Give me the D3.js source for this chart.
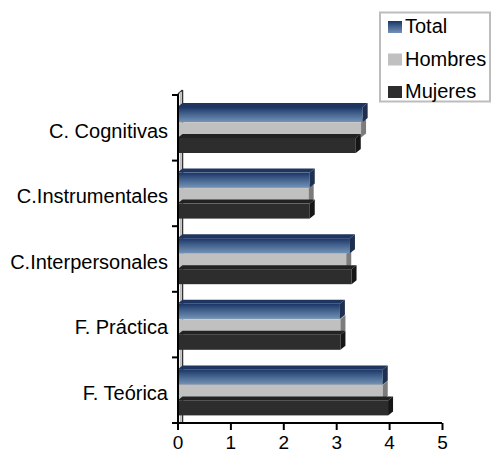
<!DOCTYPE html>
<html>
<head>
<meta charset="utf-8">
<script src="https://cdn.jsdelivr.net/npm/d3@7"></script>
<style>
  html, body { margin: 0; padding: 0; background: #fff; }
  svg { display: block; }
  text { font-family: "Liberation Sans", Arial, sans-serif; fill: #000; }
</style>
</head>
<body>
<svg id="chart" width="496" height="455"></svg>
<script>
// ---- data ----
const categories = ["C. Cognitivas", "C.Instrumentales", "C.Interpersonales", "F. Práctica", "F. Teórica"];
const seriesNames = ["Total", "Hombres", "Mujeres"];
const totalValues   = [3.50, 2.50, 3.26, 3.07, 3.88];
const hombresValues = [3.47, 2.48, 3.19, 3.08, 3.88];
const mujeresValues = [3.37, 2.50, 3.29, 3.08, 3.98];
const xTicks = [0, 1, 2, 3, 4, 5];

const seriesValues = { "Total": totalValues, "Hombres": hombresValues, "Mujeres": mujeresValues };
const colors = {
  "Total":   { front: "url(#gradTotal)", top: "#1d355f", side: "#1e2f4f" },
  "Hombres": { front: "#c0c0c0", top: "#a8a8a8", side: "#7c7c7c" },
  "Mujeres": { front: "#2d2d2d", top: "#222222", side: "#161616" }
};

const svg = d3.select("#chart");
const defs = svg.append("defs");
const g1 = defs.append("linearGradient").attr("id", "gradTotal")
  .attr("x1", 0).attr("y1", 0).attr("x2", 0).attr("y2", 1);
g1.append("stop").attr("offset", "0%").attr("stop-color", "#1a3466");
g1.append("stop").attr("offset", "35%").attr("stop-color", "#3a5884");
g1.append("stop").attr("offset", "100%").attr("stop-color", "#7392b6");

const x = d3.scaleLinear().domain([0, 5]).range([177.5, 442]);
const y = d3.scaleBand().domain(categories).range([95, 423]).padding(0);
const inner = d3.scaleBand().domain(seriesNames).range([12, 58.5]).padding(0);

const barH = 15, dx = 5, dy = -4;

// back wall line (3D depth)
svg.append("line").attr("x1", 182.5).attr("x2", 182.5).attr("y1", 90).attr("y2", 423)
  .attr("stroke", "#333").attr("stroke-width", 1.5);
svg.append("line").attr("x1", 178).attr("x2", 182.5).attr("y1", 94).attr("y2", 90)
  .attr("stroke", "#333").attr("stroke-width", 1.5);
svg.append("line").attr("x1", 180.5).attr("x2", 180.5).attr("y1", 92).attr("y2", 423)
  .attr("stroke", "#bdbdbd").attr("stroke-width", 1.5);

// bars: draw order Hombres, Total, Mujeres (so overlaps match the 3D look)
const drawOrder = ["Hombres", "Total", "Mujeres"];
const barData = [];
drawOrder.forEach(s => {
  categories.forEach((c, i) => barData.push({ series: s, cat: c, value: seriesValues[s][i] }));
});

const bars = svg.append("g").selectAll("g.bar").data(barData).join("g").attr("class", "bar");
bars.each(function(d) {
  const gsel = d3.select(this);
  const x0 = x(0), x1 = x(d.value);
  const y0 = y(d.cat) + inner(d.series);
  const col = colors[d.series];
  gsel.append("polygon")
    .attr("points", [[x0, y0], [x0 + dx, y0 + dy], [x1 + dx, y0 + dy], [x1, y0]].map(p => p.join(",")).join(" "))
    .attr("fill", col.top);
  gsel.append("rect").attr("x", x0).attr("y", y0).attr("width", x1 - x0).attr("height", barH)
    .attr("fill", col.front);
  gsel.append("polygon")
    .attr("points", [[x1, y0], [x1 + dx, y0 + dy], [x1 + dx, y0 + dy + barH], [x1, y0 + barH]].map(p => p.join(",")).join(" "))
    .attr("fill", col.side);
});

// y axis
const yAxisG = svg.append("g");
yAxisG.append("line").attr("x1", 178).attr("x2", 178).attr("y1", 94).attr("y2", 424)
  .attr("stroke", "#000").attr("stroke-width", 2);
const boundaries = categories.map(c => y(c)).concat([y.range()[1]]);
yAxisG.selectAll("line.tk").data(boundaries).join("line").attr("class", "tk")
  .attr("x1", 172).attr("x2", 178).attr("y1", d => d).attr("y2", d => d)
  .attr("stroke", "#000").attr("stroke-width", 2);
yAxisG.selectAll("text").data(categories).join("text")
  .attr("x", 168).attr("y", d => y(d) + 42.5)
  .attr("text-anchor", "end").attr("font-size", 20).text(d => d);

// x axis
const xAxis = d3.axisBottom(x).tickValues(xTicks).tickSize(7).tickPadding(6).tickFormat(d3.format("d"));
const xg = svg.append("g").attr("transform", "translate(0,423)").call(xAxis);
xg.select(".domain").attr("stroke", "#000").attr("stroke-width", 2).attr("d", "M172,0H442");
xg.selectAll(".tick line").attr("stroke", "#000").attr("stroke-width", 2);
xg.selectAll(".tick text").attr("font-size", 19).attr("font-family", "Liberation Sans, Arial, sans-serif").attr("fill", "#000");

// legend
const lg = svg.append("g");
lg.append("rect").attr("x", 380).attr("y", 12.5).attr("width", 110).attr("height", 89)
  .attr("fill", "#fff").attr("stroke", "#bdbdbd").attr("stroke-width", 2);
const legendY = d3.scalePoint().domain(seriesNames).range([33, 98]);
const items = lg.selectAll("g.item").data(seriesNames).join("g").attr("class", "item");
items.append("rect").attr("x", 388).attr("y", d => legendY(d) - 12).attr("width", 14).attr("height", 12)
  .attr("fill", d => colors[d].front);
items.append("text").attr("x", 405).attr("y", d => legendY(d)).attr("font-size", 20).text(d => d);
</script>
</body>
</html>
